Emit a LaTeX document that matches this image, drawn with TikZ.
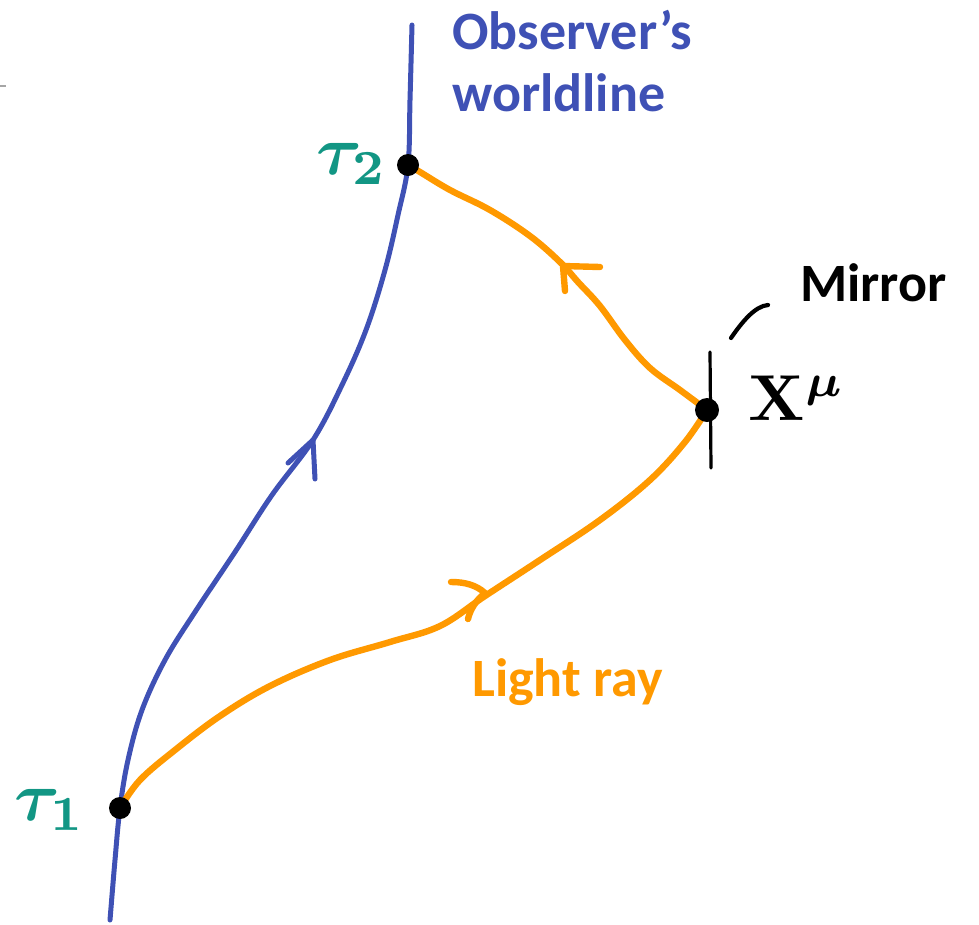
\documentclass[tikz,border=0pt]{standalone}
\usepackage{graphicx}
\usepackage{fontspec}
\setmainfont{Carlito}
\usetikzlibrary{calc}
\definecolor{wlblue}{RGB}{63,81,181}
\definecolor{rayorange}{RGB}{255,153,0}
\definecolor{tauteal}{RGB}{18,150,132}
\tikzset{
  worldline/.style={draw=wlblue,line width=5pt,line cap=round,line join=round},
  ray/.style={draw=rayorange,line width=6.4pt,line cap=round,line join=round},
  event/.style={circle,fill=black,inner sep=0pt,minimum size=22pt},
  bigtext/.style={font=\fontsize{54}{62}\selectfont\bfseries,inner sep=0pt,align=left},
  taulabel/.style={text=tauteal,inner sep=0pt},
}
\begin{document}
\begin{tikzpicture}[x=1pt,y=-1pt]
\useasboundingbox (0,0) rectangle (979,924);
\draw[gray!70,line width=2pt] (0,86) -- (6,86);
% events
\coordinate (t1) at (120,808);
\coordinate (t2) at (408,165);
\coordinate (xm) at (707,410);
% worldline
\draw[worldline] plot[smooth,tension=0.6] coordinates {(110,920) (115,860) (t1) (128,760) (142,710) (165,660) (195,612) (235,552) (272,495) (313,440) (342,385) (366,330) (385,270) (398,215) (t2) (410,100) (412,25)};
\coordinate (ba) at (313,440);
\draw[worldline] (288,463) -- (ba) -- (315,479);
% light ray
\draw[ray] plot[smooth,tension=0.6] coordinates {(t1) (140,780) (175,750) (220,716) (270,686) (330,660) (390,642) (440,626) (485,596) (540,560) (600,520) (650,480) (685,442) (xm)};
\draw[ray] plot[smooth,tension=0.6] coordinates {(xm) (680,390) (650,368) (625,340) (600,306) (578,282) (560,262) (530,236) (490,210) (450,190) (420,172) (t2)};
\coordinate (oa1) at (485,593);
\draw[ray] (451,582) .. controls (465,582) and (476,585) .. (oa1) .. controls (476,600) and (470,610) .. (468,619);
\coordinate (oa2) at (563,266);
\draw[ray] (600,267) -- (oa2) -- (565,291);
% mirror
\coordinate (mtop) at (710,352);
\coordinate (mbot) at (711,468);
\draw[line width=3.2pt,line cap=round] (mtop) -- (mbot);
\coordinate (pa) at (731,338);
\coordinate (pb) at (768,305);
\draw[line width=4.2pt,line cap=round] (pa) .. controls (742,322) and (755,306) .. (pb);
% dots
\node[event] (e1) at (t1) {};
\node[event] (e2) at (t2) {};
\node[event,minimum size=24pt] (e3) at (xm) {};
% labels
\node[bigtext,text=wlblue,anchor=north west] (obs) at (452,10) {Observer’s\\worldline};
\node[bigtext,anchor=west] (mir) at (800,283) {Mirror};
\node[bigtext,text=rayorange,anchor=west] (lr) at (472,682) {Light ray};
\node[taulabel] (tau2) at (352,164) {\scalebox{7}{\boldmath$\tau_2$}};
\node[taulabel] (tau1) at (50,810) {\scalebox{7}{\boldmath$\tau_1$}};
\node[inner sep=0pt] (xmu) at (797,398) {\scalebox{6.5}{\boldmath$\mathbf{X}^{\mu}$}};
\end{tikzpicture}
\end{document}
